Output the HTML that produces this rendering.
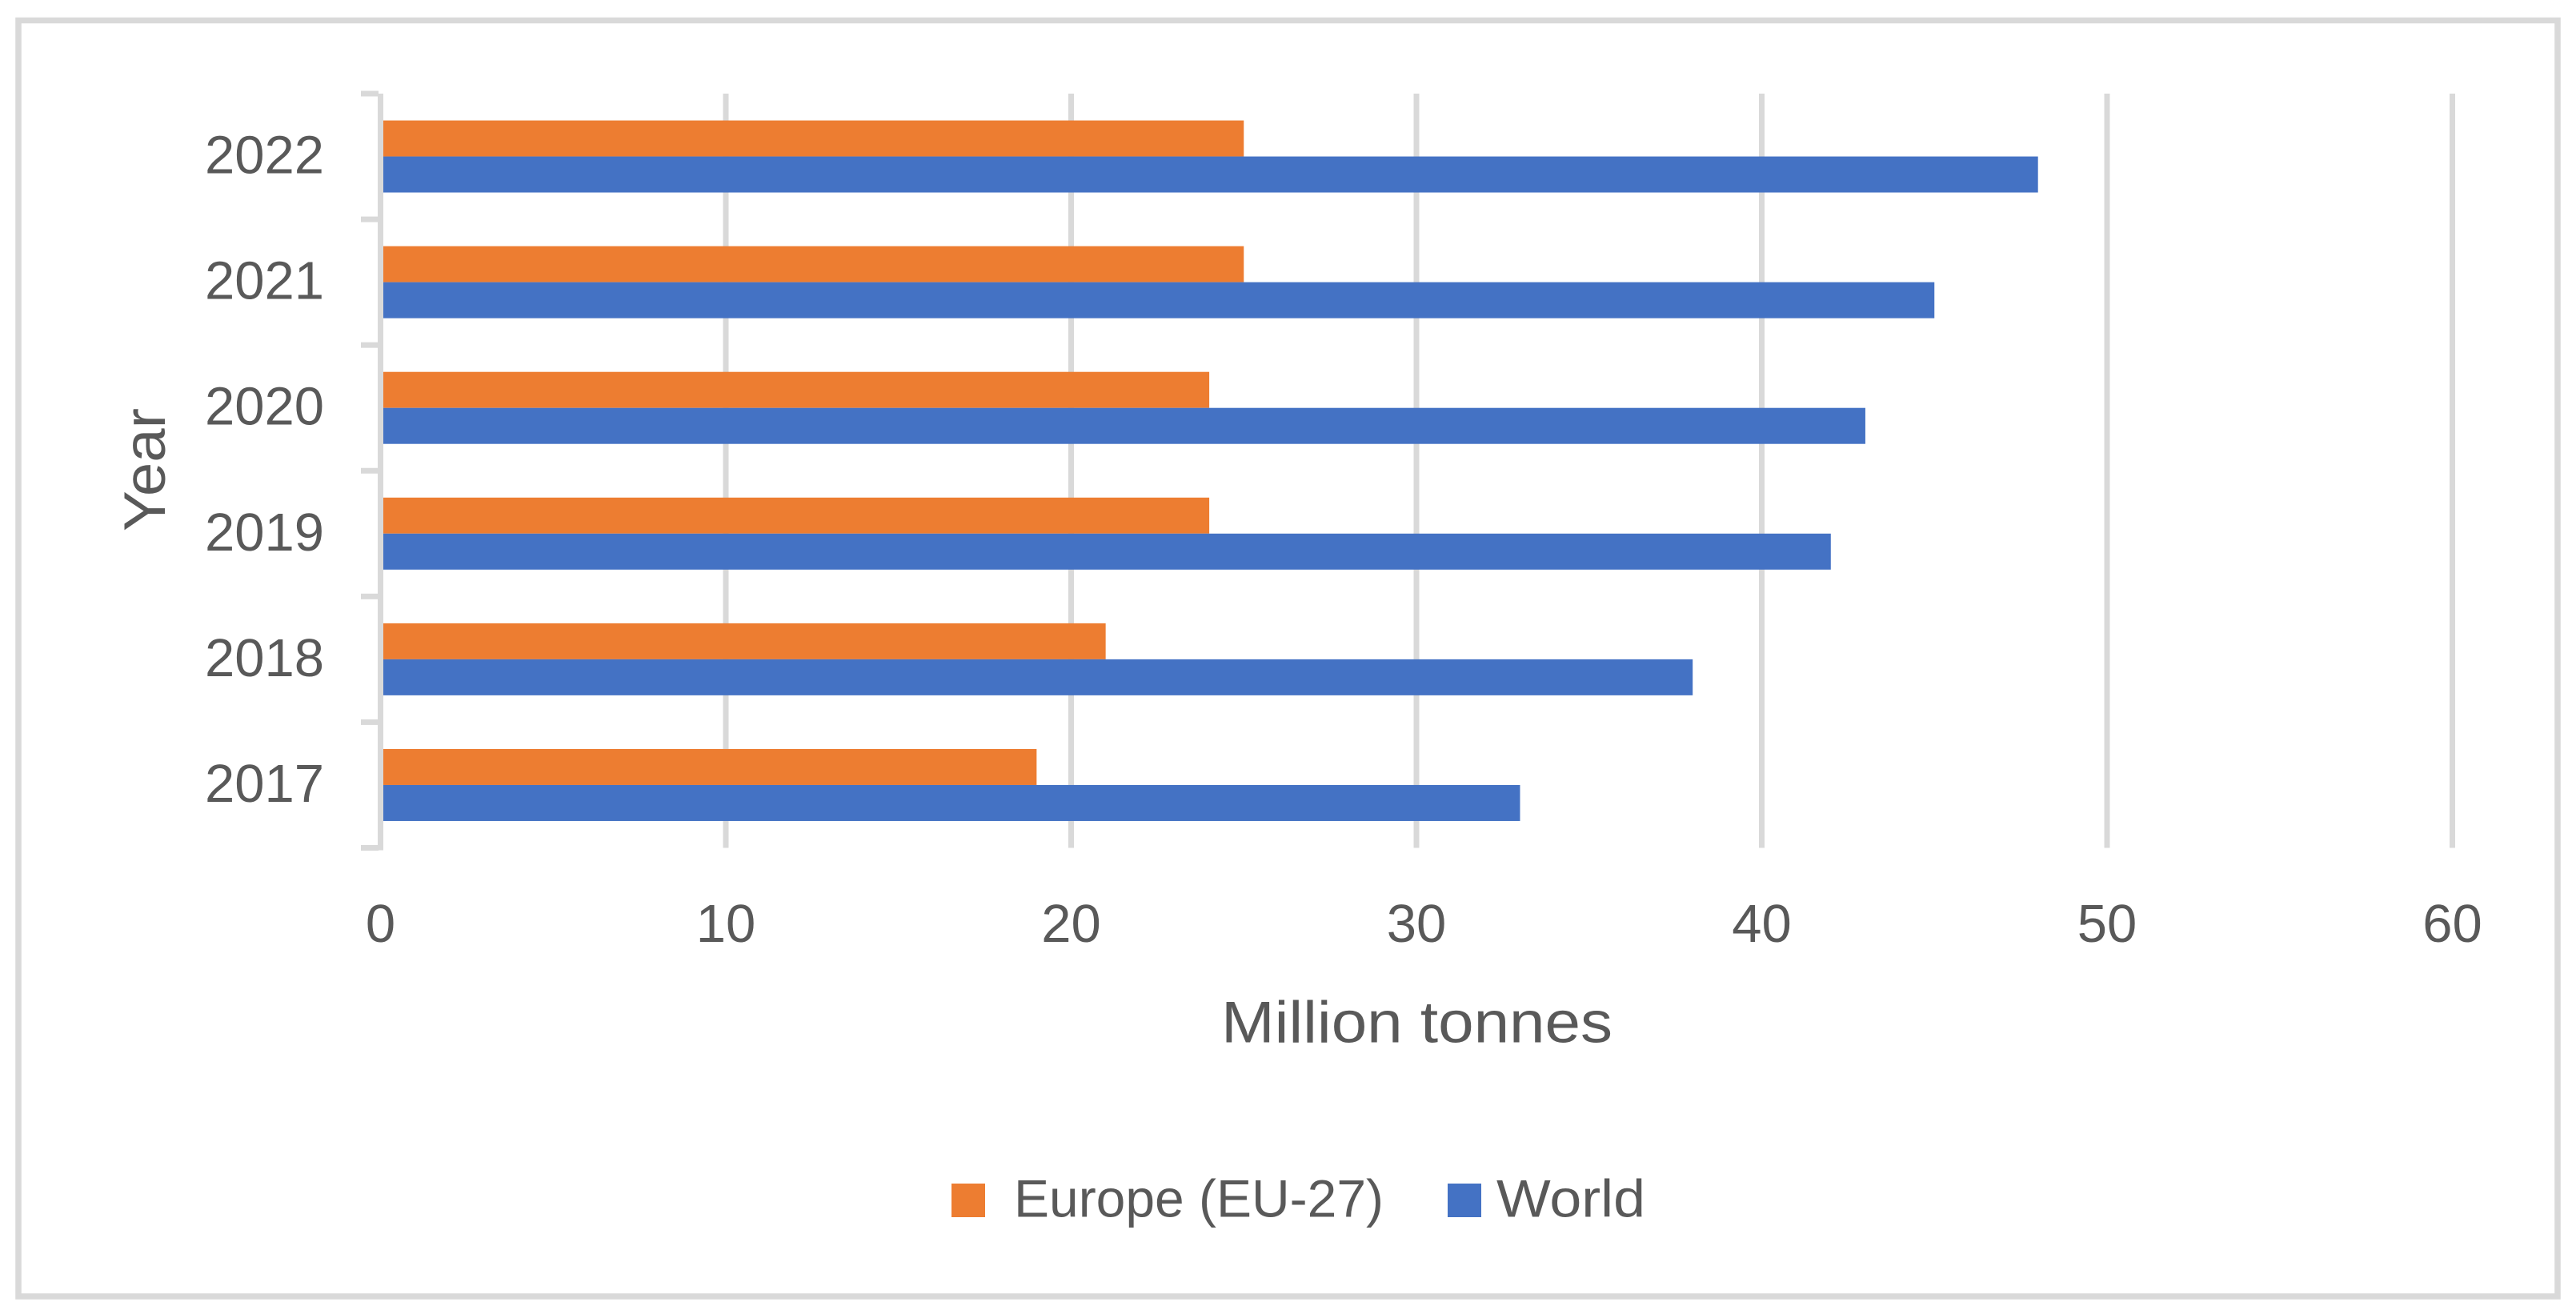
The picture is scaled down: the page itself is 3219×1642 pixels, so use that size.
<!DOCTYPE html>
<html lang="en">
<head>
<meta charset="utf-8">
<title>Million tonnes by year: Europe (EU-27) and World</title>
<style>
html,body{margin:0;padding:0;background:#fff;width:3219px;height:1642px;overflow:hidden}
svg{display:block}
text{font-family:"Liberation Sans",sans-serif;fill:#595959}
</style>
</head>
<body>
<svg id="chart" xmlns="http://www.w3.org/2000/svg" width="3219" height="1642" viewBox="0 0 3219 1642">
  <rect x="0" y="0" width="3219" height="1642" fill="#ffffff"/>
  <rect x="23" y="25.5" width="3173" height="1594.5" fill="none" stroke="#d9d9d9" stroke-width="7.5"/>
  <g id="grid"></g>
  <g id="bars"></g>
  <g id="axis"></g>
  <g id="labels"></g>
  <text x="1526" y="1302.5" font-size="73" textLength="489" lengthAdjust="spacingAndGlyphs">Million tonnes</text>
  <text transform="translate(206 664) rotate(-90)" x="0" y="0" font-size="73" textLength="154" lengthAdjust="spacingAndGlyphs">Year</text>
  <g>
    <g>
      <rect x="1189" y="1479" width="42" height="42" fill="#ed7d31"/>
      <text x="1267" y="1520.5" font-size="66" textLength="462" lengthAdjust="spacingAndGlyphs">Europe (EU-27)</text>
    </g>
    <g>
      <rect x="1809" y="1479" width="42" height="42" fill="#4472c4"/>
      <text x="1870" y="1520.5" font-size="66" textLength="186" lengthAdjust="spacingAndGlyphs">World</text>
    </g>
  </g>
</svg>
<script>
var years = ['2017', '2018', '2019', '2020', '2021', '2022'];
var europeValues = [19, 21, 24, 24, 25, 25];
var worldValues = [33, 38, 42, 43, 45, 48];
var xTickValues = [0, 10, 20, 30, 40, 50, 60];

var NS = 'http://www.w3.org/2000/svg';
var plotLeft = 475.5, plotRight = 3064.5, plotTop = 117, plotBottom = 1059.5;
var axisMax = xTickValues[xTickValues.length - 1];
var barHeight = 45;

function xScale(v) { return plotLeft + (v / axisMax) * (plotRight - plotLeft); }
function bandHeight() { return (plotBottom - plotTop) / years.length; }
function bandCenter(i) { return plotBottom - (i + 0.5) * bandHeight(); }
function make(tag, parent, props) {
  var el = document.createElementNS(NS, tag);
  for (var k in props) el.setAttribute(k, props[k]);
  document.getElementById(parent).appendChild(el);
  return el;
}

xTickValues.forEach(function (v) {
  if (v === 0) return;
  var line = make('rect', 'grid', { x: xScale(v) - 3.5, y: plotTop, width: 7, height: plotBottom - plotTop, fill: '#d9d9d9' });
  
  
});

years.forEach(function (year, i) {
  var c = bandCenter(i);
  var europeBar = make('rect', 'bars', { x: xScale(0), y: c - barHeight, width: xScale(europeValues[i]) - xScale(0), height: barHeight, fill: '#ed7d31' });
  
  
  var worldBar = make('rect', 'bars', { x: xScale(0), y: c, width: xScale(worldValues[i]) - xScale(0), height: barHeight, fill: '#4472c4' });
  
  
  var yearLabel = make('text', 'labels', { x: 405, y: c + 21, 'font-size': 67, 'text-anchor': 'end' });
  yearLabel.textContent = year;
  
  
});

var axisLine = make('rect', 'axis', { x: plotLeft - 3.5, y: plotTop, width: 7, height: plotBottom - plotTop + 3, fill: '#d9d9d9' });



for (var t = 0; t <= years.length; t++) {
  var tick = make('rect', 'axis', { x: 451, y: plotBottom - t * bandHeight() - 3.5, width: 22, height: 7, fill: '#d9d9d9' });
  
  
}

xTickValues.forEach(function (v) {
  var label = make('text', 'labels', { x: xScale(v), y: 1177, 'font-size': 67, 'text-anchor': 'middle' });
  label.textContent = String(v);
  
  
});
</script>
</body>
</html>
